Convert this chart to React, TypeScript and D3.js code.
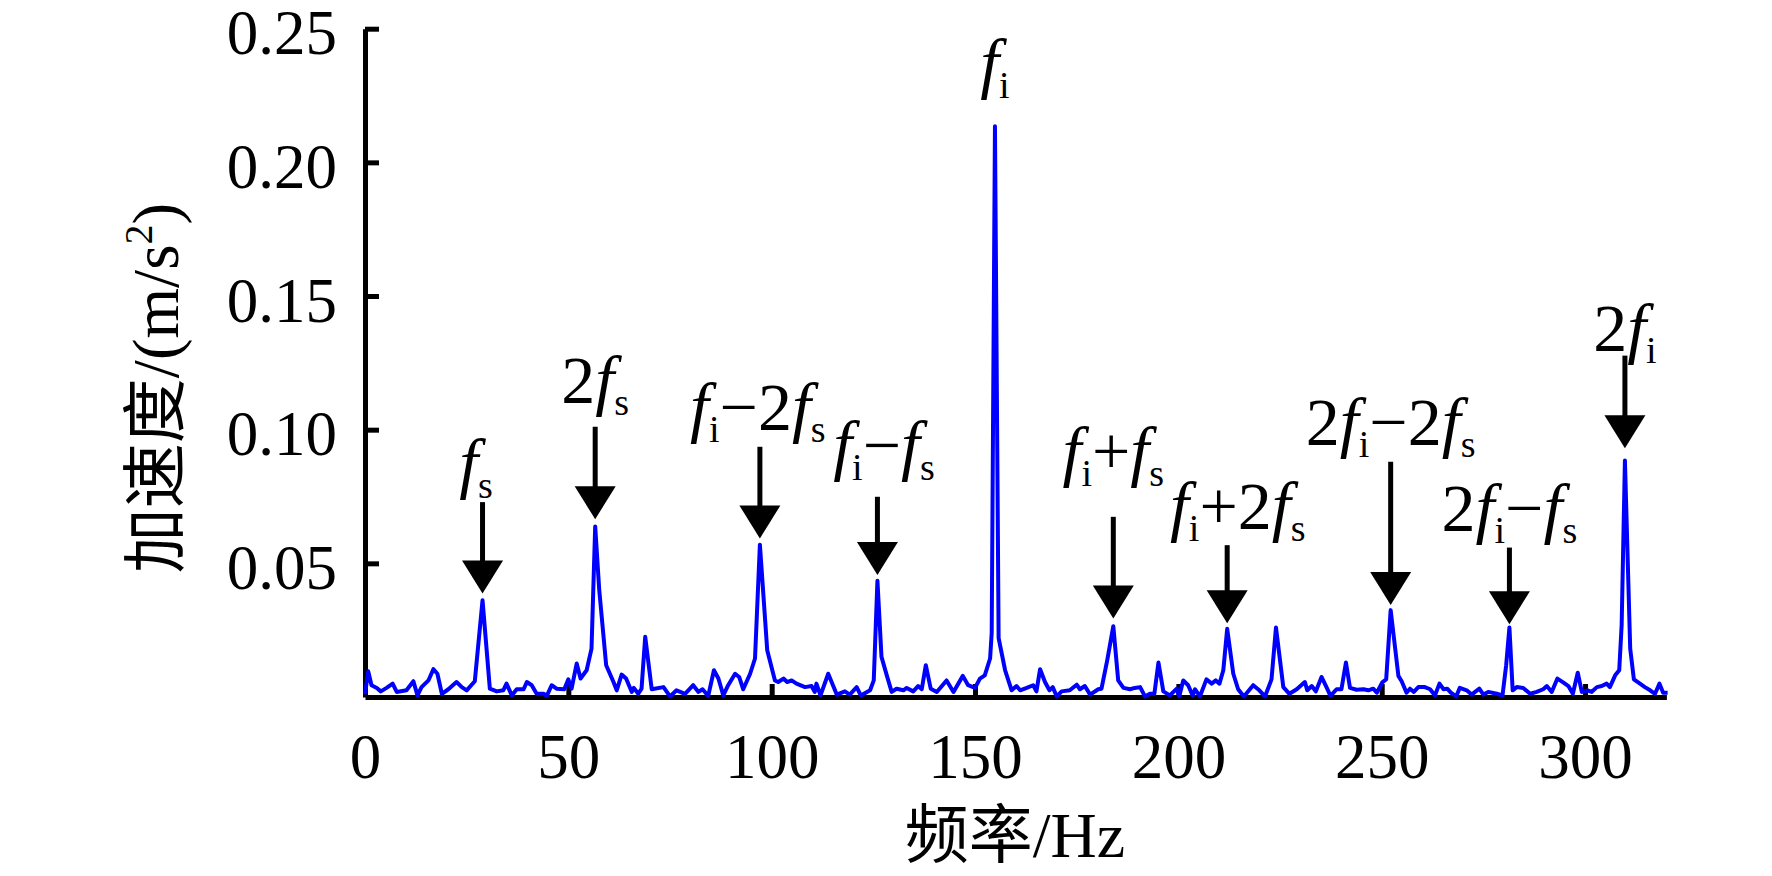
import React, { useRef, useEffect } from 'react';
import * as d3 from 'd3';

// spectrum (Hz, m/s^2)
const freqHz = [
  0, 0.8, 1.6, 2.9, 3.9, 5.3, 6.8, 7.8, 10.2, 11.9, 12.9, 13.9, 15.6, 16.8, 17.8, 18.9, 20.5, 22.5, 23.8, 25,
  27.0, 28.9, 30.7, 32.4, 34, 34.8, 36.1, 37.3, 39, 39.8, 41, 42.2, 43.9, 44.7, 45.9, 47.1, 49, 50, 50.8, 52.05,
  53.0, 54.5, 55.7, 56.6, 57.6, 59.3, 61.1, 61.9, 63.1, 64.2, 65.6, 66.1, 67.2, 68.0, 68.9, 70.5, 73.4, 75, 76.6, 78.7,
  80.7, 82, 83, 84.4, 85.8, 86.9, 88.1, 89.3, 91, 92.0, 93, 94.7, 95.9, 97.1, 98.9, 100.8, 101.6, 102.9, 103.8, 104.9,
  106.1, 108.2, 109.8, 110.6, 111.0, 112, 113.9, 116, 118, 119.2, 120.9, 121.9, 124.2, 125.1, 126.0, 127.0, 128.3, 129.5, 130.7, 132.4,
  133.2, 134.8, 136, 136.9, 137.9, 139.1, 140.6, 143, 144.7, 147, 148.3, 150, 151.2, 152.4, 153.7, 154.1, 154.9, 155.8, 157.4, 159,
  160.2, 161.1, 162.7, 164.3, 165.1, 166, 167.2, 168.3, 169.1, 170.1, 171.3, 173.3, 175, 175.8, 177, 178.3, 180.3, 181.1, 182.5, 184,
  185.2, 186.5, 188.1, 189.3, 190.6, 191.8, 193, 194.1, 195.1, 196.3, 197.9, 199.6, 200.2, 201.2, 202.4, 203.5, 204.1, 205.3, 206.9, 208.2,
  209.2, 210.1, 211.05, 212, 213.5, 214.7, 216.1, 218.4, 219.9, 221.3, 222.9, 224, 225.8, 227.3, 229.1, 231.1, 231.7, 232.8, 233.8, 235.2,
  236.5, 237.4, 238.9, 240.1, 241.2, 242.2, 243.8, 245.5, 246.7, 247.9, 248.8, 250.2, 251.1, 252.2, 254.1, 254.9, 256.1, 256.95, 257.9, 259,
  260.6, 261.9, 263.1, 264.2, 265.2, 266.1, 267, 268.3, 269.2, 270.9, 272.1, 274, 275, 276.2, 278.3, 279.7, 280.6, 281.4, 282.2, 283.2,
  284.8, 286.5, 288.1, 289.7, 290.6, 291.8, 293.2, 294.7, 295.9, 297, 298.2, 299.2, 300.6, 301.6, 302.9, 304.1, 305.3, 306.1, 307.4, 308.4,
  309, 309.8, 311.1, 312.0, 313.5, 314.7, 316, 317.2, 318.3, 319.2, 320.3,
];
const accel = [
  0.001, 0.0096, 0.0044, 0.0034, 0.0021, 0.0034, 0.005, 0.0019, 0.0025, 0.0059, 0.0006, 0.0037, 0.0062, 0.0104, 0.0087, 0.0012, 0.0029, 0.0056, 0.0037, 0.0025,
  0.0059, 0.0362, 0.0031, 0.0021, 0.0025, 0.005, 0.0006, 0.0029, 0.0029, 0.0056, 0.0044, 0.0012, 0.0012, 0.0004, 0.0044, 0.0031, 0.0029, 0.0066, 0.0031, 0.0125,
  0.0069, 0.01, 0.0181, 0.0638, 0.04, 0.0119, 0.0056, 0.0025, 0.0084, 0.0069, 0.0019, 0.0034, 0.0012, 0.0031, 0.0225, 0.0029, 0.0037, 0.0002, 0.0025, 0.0012,
  0.0044, 0.0019, 0.0029, 0.0004, 0.01, 0.0069, 0.0006, 0.0044, 0.0087, 0.0075, 0.0029, 0.0087, 0.0144, 0.057, 0.0175, 0.0062, 0.0056, 0.0069, 0.0056, 0.0062,
  0.005, 0.0037, 0.0041, 0.0019, 0.005, 0.0006, 0.0087, 0.0009, 0.0021, 0.0009, 0.0037, 0.0006, 0.0025, 0.0062, 0.0435, 0.015, 0.0081, 0.0019, 0.0031, 0.0025,
  0.0034, 0.0021, 0.0041, 0.0029, 0.0119, 0.0031, 0.0019, 0.0062, 0.0019, 0.0079, 0.0044, 0.0034, 0.0069, 0.0081, 0.0144, 0.024, 0.2135, 0.022, 0.01, 0.0025,
  0.0041, 0.0025, 0.0034, 0.0044, 0.0021, 0.0104, 0.0056, 0.0025, 0.0037, 0.0002, 0.0021, 0.0025, 0.0046, 0.0029, 0.0041, 0.0009, 0.0029, 0.0031, 0.0137, 0.0265,
  0.0062, 0.0034, 0.0029, 0.0034, 0.0037, 0.0002, 0.0012, 0.0012, 0.0129, 0.0021, 0.0006, 0.0031, 0.0002, 0.0062, 0.0044, 0.0006, 0.0029, 0.0002, 0.0066, 0.005,
  0.0062, 0.005, 0.01, 0.0255, 0.0087, 0.0029, 0.0002, 0.0044, 0.0025, 0.0002, 0.0066, 0.026, 0.0037, 0.0012, 0.0029, 0.0056, 0.0025, 0.0041, 0.0021, 0.0075,
  0.0034, 0.0004, 0.0029, 0.0029, 0.0129, 0.0034, 0.0027, 0.0029, 0.0025, 0.0031, 0.0016, 0.0056, 0.0066, 0.0325, 0.0079, 0.0059, 0.0016, 0.0031, 0.0019, 0.0037,
  0.0037, 0.0029, 0.0006, 0.005, 0.0029, 0.0031, 0.0016, 0.0002, 0.0034, 0.0025, 0.0009, 0.0031, 0.0009, 0.0019, 0.0012, 0.0006, 0.0119, 0.026, 0.0025, 0.0037,
  0.0034, 0.0012, 0.0019, 0.0029, 0.0041, 0.0019, 0.0069, 0.0054, 0.0041, 0.0012, 0.0091, 0.0019, 0.0025, 0.0019, 0.0037, 0.0041, 0.005, 0.0037, 0.0081, 0.01,
  0.027, 0.0885, 0.0181, 0.0066, 0.005, 0.0037, 0.0025, 0.0012, 0.005, 0.0016, 0.0016,
];

const xTicks = [0, 50, 100, 150, 200, 250, 300];
const yTicks = [0.05, 0.1, 0.15, 0.2, 0.25];

// peak annotations: 'f' is italic, '_x' is a subscript
const peakLabels = ['f_s', '2f_s', 'f_i−2f_s', 'f_i−f_s', 'f_i', 'f_i+f_s', 'f_i+2f_s', '2f_i−2f_s', '2f_i−f_s', '2f_i'];
const peakFreq = [28.9, 56.6, 97.1, 126.0, 154.9, 184.0, 212.0, 252.2, 281.4, 309.8];
const labelFreq = [27.3, 56.6, 96.6, 127.6, 154.9, 184.0, 214.6, 252.2, 281.4, 309.8];
const arrowTip = [0.0387, 0.0665, 0.0593, 0.0456, null, 0.0294, 0.0276, 0.0344, 0.0272, 0.0931];
const arrowTail = [0.0729, 0.1011, 0.0936, 0.0749, null, 0.0674, 0.0568, 0.088, 0.0559, 0.1277];
const labelAt = [0.0791, 0.11, 0.1, 0.0855, 0.2286, 0.0834, 0.0627, 0.0944, 0.0622, 0.1296];

const W = 1772;
const H = 876;
const serif = "'Liberation Serif', 'Times New Roman', 'Noto Sans CJK SC', serif";

function writeLabel(text, str, size) {
  const drop = 12;
  let shift = 0;
  for (let k = 0; k < str.length; k++) {
    let ch = str[k];
    let sub = false;
    if (ch === '_') { sub = true; ch = str[++k]; }
    const want = sub ? drop : 0;
    text.append('tspan')
      .attr('dy', want - shift)
      .attr('font-size', sub ? size * 0.56 : size)
      .attr('font-style', ch === 'f' ? 'italic' : 'normal')
      .text(ch);
    shift = want;
  }
}

const App = () => {
  const ref = useRef(null);

  useEffect(() => {
    const svg = d3.select(ref.current);
    svg.selectAll('*').remove();

    const x = d3.scaleLinear().domain([0, 320]).range([365, 1666.4]);
    const y = d3.scaleLinear().domain([0, 0.25]).range([697, 28.7]);

    // y axis, ticks point inward
    const gy = svg.append('g')
      .attr('transform', `translate(${x(0)},0)`)
      .call(d3.axisLeft(y).tickValues(yTicks).tickSize(-14).tickSizeOuter(0).tickPadding(28)
        .tickFormat(d3.format('.2f')));
    gy.selectAll('.tick text').attr('dy', '0.4em');

    // x axis
    svg.append('g')
      .attr('transform', `translate(0,${y(0)})`)
      .call(d3.axisBottom(x).tickValues(xTicks).tickSize(-13).tickSizeOuter(0).tickPadding(36));

    svg.selectAll('.domain, .tick line').attr('stroke', '#000').attr('stroke-width', 5);
    svg.selectAll('.tick text').attr('font-size', 63).attr('font-family', serif).attr('fill', '#000');

    // spectrum
    const line = d3.line().x(d => x(d[0])).y(d => y(d[1]));
    svg.append('path')
      .datum(d3.zip(freqHz, accel))
      .attr('d', line)
      .attr('fill', 'none')
      .attr('stroke', '#0000ff')
      .attr('stroke-width', 4)
      .attr('stroke-linejoin', 'round');

    // arrows + labels
    const headW = 41, headH = 33;
    peakLabels.forEach((lab, i) => {
      const px = x(peakFreq[i]);
      if (arrowTip[i] != null) {
        const tip = y(arrowTip[i]);
        const tail = y(arrowTail[i]);
        svg.append('line')
          .attr('x1', px).attr('x2', px)
          .attr('y1', tail).attr('y2', tip - headH + 2)
          .attr('stroke', '#000').attr('stroke-width', 5);
        svg.append('path')
          .attr('d', `M${px - headW / 2},${tip - headH}L${px + headW / 2},${tip - headH}L${px},${tip}Z`)
          .attr('fill', '#000');
      }
      const t = svg.append('text')
        .attr('x', x(labelFreq[i])).attr('y', y(labelAt[i]))
        .attr('text-anchor', 'middle')
        .attr('font-family', serif);
      writeLabel(t, lab, 68);
    });

    // axis titles
    svg.append('text')
      .attr('x', 1015).attr('y', 857)
      .attr('text-anchor', 'middle')
      .attr('font-family', serif)
      .attr('font-size', 64)
      .text('频率/Hz');

    const yt = svg.append('text')
      .attr('transform', 'translate(178,388) rotate(-90)')
      .attr('text-anchor', 'middle')
      .attr('font-family', serif)
      .attr('font-size', 65);
    yt.append('tspan').text('加速度/(m/s');
    yt.append('tspan').attr('font-size', 40).attr('dy', -26).text('2');
    yt.append('tspan').attr('dy', 26).text(')');
  }, []);

  return (
    <svg ref={ref} width={W} height={H} style={{ position: 'absolute', left: 0, top: 0, background: '#fff' }}></svg>
  );
};

export default App;
